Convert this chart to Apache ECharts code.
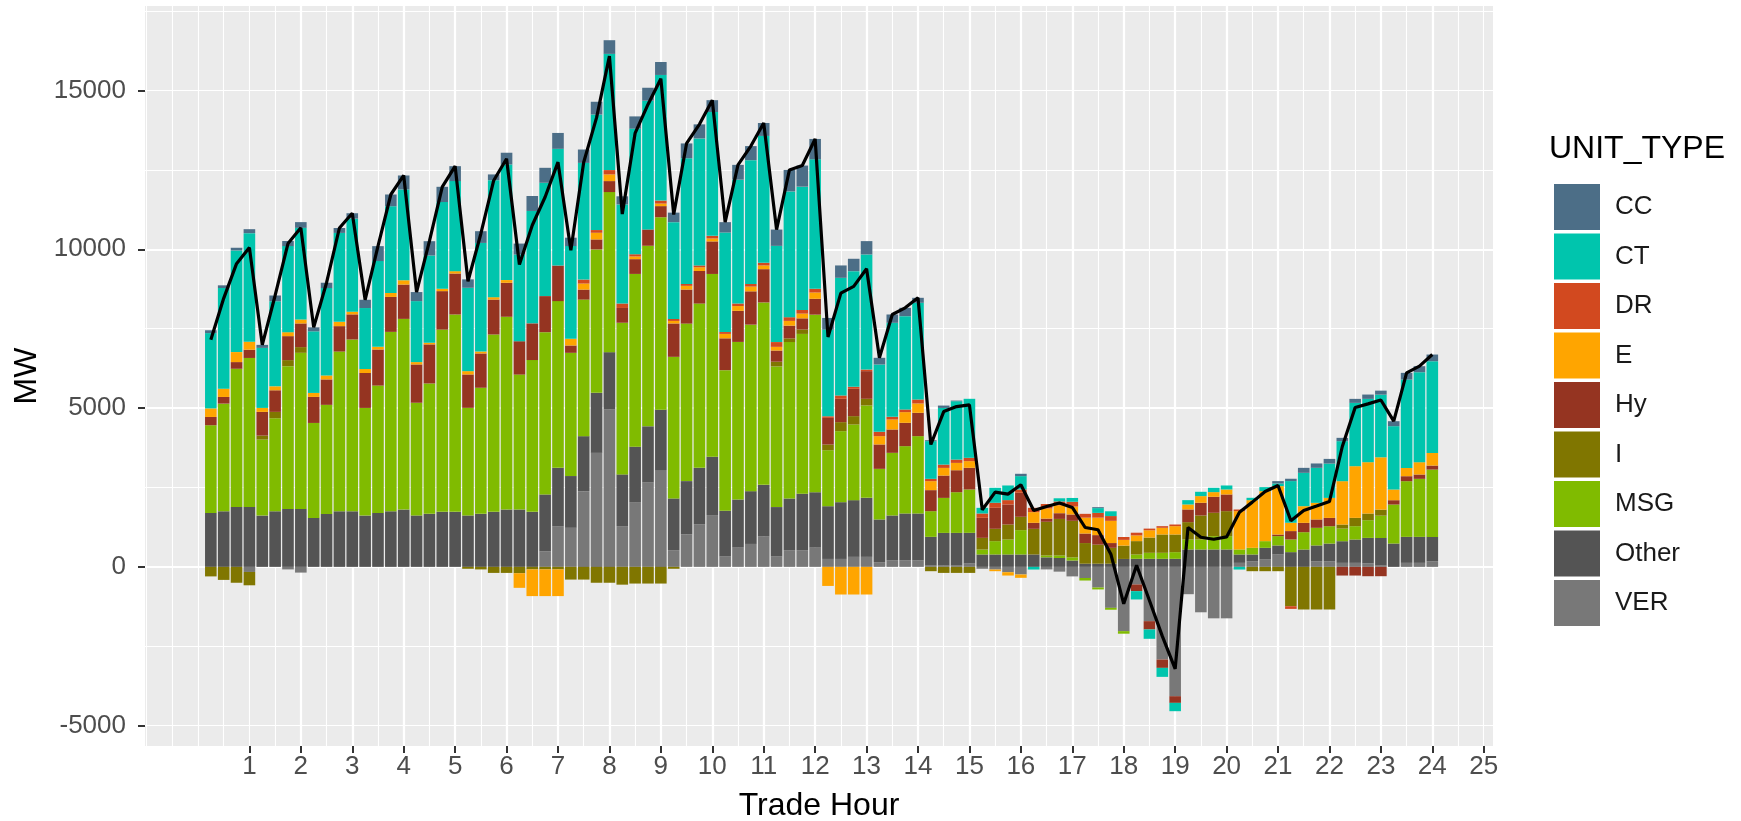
<!DOCTYPE html>
<html><head><meta charset="utf-8">
<script src="https://cdn.jsdelivr.net/npm/echarts@6/dist/echarts.min.js"></script>
<style>html,body{margin:0;padding:0;background:#fff}#c{width:1741px;height:821px}</style>
</head><body><div id="c"></div>
<script>
// Trade hour of each 15-minute interval
const hours = [0.25,0.5,0.75,1,1.25,1.5,1.75,2,2.25,2.5,2.75,3,3.25,3.5,3.75,4,
  4.25,4.5,4.75,5,5.25,5.5,5.75,6,6.25,6.5,6.75,7,7.25,7.5,7.75,8,
  8.25,8.5,8.75,9,9.25,9.5,9.75,10,10.25,10.5,10.75,11,11.25,11.5,11.75,12,
  12.25,12.5,12.75,13,13.25,13.5,13.75,14,14.25,14.5,14.75,15,15.25,15.5,15.75,16,
  16.25,16.5,16.75,17,17.25,17.5,17.75,18,18.25,18.5,18.75,19,19.25,19.5,19.75,20,
  20.25,20.5,20.75,21,21.25,21.5,21.75,22,22.25,22.5,22.75,23,23.25,23.5,23.75,24];

const unitTypes = ['CC','CT','DR','E','Hy','I','MSG','Other','VER'];

const VER = [0,0,0,-160,0,0,-80,-180,0,0,0,0,0,0,0,0,
  0,0,0,0,0,0,0,0,0,0,490,1282,1230,2383,3590,4955,
  1282,2039,2656,3049,524,1025,1336,1631,326,606,722,955,326,524,524,606,
  250,250,315,315,147,210,210,210,40,40,40,105,-60,-84,-168,-240,
  0,-80,-150,-300,-350,-650,-1290,-2024,-554,-1709,-2918,-4072,-860,-1430,-1620,-1620,
  126,178,231,388,0,0,178,178,126,126,113,40,0,126,126,178];
const Other = [1700,1750,1888,1888,1615,1750,1825,1825,1542,1667,1750,1750,1615,1699,1750,1804,
  1618,1670,1732,1732,1618,1670,1732,1805,1805,1732,1790,1836,1630,1733,1890,1806,
  1630,1745,1770,1900,1630,1675,1782,1837,1441,1515,1662,1627,1557,1628,1779,1744,
  1660,1787,1786,1859,1345,1408,1471,1471,906,1030,1030,967,390,390,390,390,
  390,300,280,200,100,100,100,250,254,254,254,254,548,548,548,548,
  264,212,369,286,464,546,496,556,682,735,800,870,735,819,819,766];
const MSG = [2760,3390,4350,4690,2395,2930,4495,4915,2990,3435,5030,5410,3390,4010,5650,6005,
  3550,4105,5740,6215,3390,3970,5585,6070,4250,4780,5110,5250,3880,4300,4515,5040,
  4775,5440,5685,6060,4460,4960,5173,5755,4427,4962,5243,5744,4428,4927,5032,5591,
  1763,2236,2382,2908,1595,1973,2120,2435,808,1102,1281,1365,157,420,473,767,
  0,60,80,100,-80,-60,-60,-80,137,189,189,210,315,315,420,420,
  158,210,210,294,400,546,556,546,399,420,556,703,1228,1753,1827,2120];
const I = [-300,-410,-500,-420,125,200,190,180,0,0,0,0,0,0,0,0,
  0,0,0,0,-60,-80,-190,-190,-200,-80,-80,-80,-400,-400,-500,-500,
  -560,-525,-525,-525,-60,0,0,0,0,0,0,0,150,116,140,0,
  179,284,263,210,0,0,0,0,-136,-190,-190,-190,367,389,472,420,
  808,1060,1150,1150,650,600,500,420,420,480,577,556,546,756,735,787,
  0,-136,-136,-136,-1239,-1342,-1342,-1342,126,262,210,189,0,0,0,0];
const Hy = [260,210,210,260,745,680,755,745,820,800,800,790,1100,1135,1100,1080,
  1205,1230,1210,1290,1050,1080,1100,1070,1050,1155,1135,1120,230,315,315,346,
  465,465,513,350,1050,1072,1025,1025,1002,979,1049,1048,350,400,350,500,
  839,735,861,871,767,735,735,735,662,703,692,682,630,661,630,755,
  189,100,180,200,300,300,150,0,-210,-262,-262,-210,399,399,504,525,
  0,0,0,50,263,294,263,262,-273,-273,-294,-294,136,157,136,126];
const E = [270,260,315,250,125,125,125,125,125,125,135,85,125,85,125,135,
  75,50,75,75,105,60,75,85,-460,-840,-840,-840,210,190,210,210,
  0,85,0,80,80,117,117,93,140,150,150,117,117,150,150,198,
  -600,-870,-870,-870,262,315,336,294,283,241,231,210,0,-52,-105,-105,
  336,320,250,250,500,550,700,180,180,230,210,262,157,210,147,157,
  1207,1501,1575,1524,262,525,523,630,1365,1627,1617,1648,336,262,388,399];
const DR = [0,0,0,0,0,0,0,0,0,0,0,0,0,0,0,0,
  0,0,0,0,0,0,0,0,0,0,0,0,0,125,85,136,
  140,70,0,95,60,58,58,82,58,80,80,82,150,117,117,117,
  50,105,63,50,136,84,84,126,73,105,105,105,137,158,137,105,
  136,140,120,150,120,150,150,90,85,52,52,52,0,0,0,0,
  52,0,0,0,-84,0,0,0,0,0,0,0,0,0,0,0];
const CT = [2370,3170,3200,3420,1890,2680,2710,2885,1940,2750,2800,2930,1920,2700,2730,2860,
  1920,2750,2730,2835,2625,3420,3685,3640,2730,3540,3570,3675,2920,3675,3640,3660,
  3120,3955,4054,3955,3050,3960,4000,3900,3134,3900,3900,3996,3030,3960,3880,4077,
  2730,3705,3642,3624,2121,2960,2939,3044,1187,1784,1837,1858,178,472,461,420,
  -84,0,100,120,0,150,150,0,-262,-294,-283,-262,136,136,136,126,
  -84,74,126,84,1312,1050,1103,1081,1260,1994,1994,1973,1995,2782,2834,2887];
const CC = [90,85,85,125,95,180,160,180,125,170,155,170,260,470,370,440,
  285,450,480,470,265,370,180,370,345,470,470,500,265,420,400,430,
  256,385,408,407,300,466,442,372,326,466,443,408,513,676,664,641,
  367,389,389,420,210,262,262,157,30,74,20,0,0,0,0,74,
  0,0,0,0,0,30,0,0,0,0,0,0,0,0,0,0,
  0,0,0,74,74,157,137,147,105,126,136,126,157,210,189,210];

const xTickValues = [1,2,3,4,5,6,7,8,9,10,11,12,13,14,15,16,17,18,19,20,21,22,23,24,25];
const yTickValues = [-5000,0,5000,10000,15000];

const seriesValues = {CC, CT, DR, E, Hy, I, MSG, Other, VER};
const colors = {CC:'#4C6E87', CT:'#00C5AD', DR:'#D2491F', E:'#FFA500', Hy:'#953421',
  I:'#807600', MSG:'#80BB00', Other:'#545454', VER:'#787878'};
const stackOrder = ['VER','Other','MSG','I','Hy','E','DR','CT','CC'];

const FONT = '"Liberation Sans", Arial, Helvetica, sans-serif';
const XMIN = -1.03, XMAX = 25.18, YMIN = -5640, YMAX = 17660;

// value first, hour second: the stacked dimension must be the MW value
const barSeries = stackOrder.map(name => ({
  name, type: 'bar', stack: 'total', stackStrategy: 'samesign',
  xAxisIndex: 0, yAxisIndex: 0, barWidth: 11.6,
  encode: {x: 1, y: 0},
  itemStyle: {color: colors[name]},
  data: hours.map((h, i) => [seriesValues[name][i], h]),
  z: 2, animation: false
}));
const net = hours.map((h, i) => [h, stackOrder.reduce((s, n) => s + seriesValues[n][i], 0)]);

const chart = echarts.init(document.getElementById('c'), null, {renderer: 'canvas'});
chart.setOption({
  animation: false,
  textStyle: {fontFamily: FONT},
  title: {text: 'UNIT_TYPE', left: 1549, top: 133, padding: 0,
    textStyle: {fontSize: 32, fontWeight: 'normal', color: '#000', fontFamily: FONT}},
  legend: {data: unitTypes, orient: 'vertical', left: 1549, top: 179, itemWidth: 46, itemHeight: 46,
    itemGap: 3.5, icon: 'rect', selectedMode: false,
    textStyle: {fontSize: 26, color: '#1A1A1A', fontFamily: FONT, padding: [0, 0, 0, 10]}},
  grid: {left: 145, right: 248, top: 6, bottom: 75, show: true, backgroundColor: '#EBEBEB', borderWidth: 0,
    containLabel: false, outerBoundsMode: 'none'},
  xAxis: [
    {type: 'value', min: XMIN, max: XMAX, minInterval: 1, maxInterval: 1,
      axisLine: {show: false, onZero: false},
      axisTick: {show: true, length: 7, customValues: xTickValues, lineStyle: {color: '#333', width: 2}},
      axisLabel: {customValues: xTickValues, fontSize: 26, color: '#4D4D4D', margin: 8, fontFamily: FONT,
        formatter: v => (v >= 1 && Math.abs(v - Math.round(v)) < 1e-6) ? String(Math.round(v)) : ''},
      splitLine: {show: true, showMinLine: false, showMaxLine: false, lineStyle: {color: '#FFFFFF', width: 2.2}},
      name: 'Trade Hour', nameLocation: 'middle', nameGap: 44,
      nameTextStyle: {fontSize: 32, color: '#000', fontFamily: FONT}, z: 1},
    {type: 'value', min: XMIN, max: XMAX, minInterval: 0.5, maxInterval: 0.5, position: 'bottom',
      axisLine: {show: false, onZero: false}, axisTick: {show: false}, axisLabel: {show: false},
      splitLine: {show: true, showMinLine: false, showMaxLine: false, lineStyle: {color: '#FFFFFF', width: 1.1}}, z: 0}
  ],
  yAxis: [
    {type: 'value', min: YMIN, max: YMAX, minInterval: 5000, maxInterval: 5000, position: 'left',
      axisLine: {show: false, onZero: false},
      axisTick: {show: true, length: 7, customValues: yTickValues, lineStyle: {color: '#333', width: 2}},
      axisLabel: {customValues: yTickValues, fontSize: 26, color: '#4D4D4D', margin: 19, fontFamily: FONT,
        formatter: v => String(v)},
      splitLine: {show: true, showMinLine: false, showMaxLine: false, lineStyle: {color: '#FFFFFF', width: 2.2}},
      name: 'MW', nameLocation: 'middle', nameGap: 101,
      nameTextStyle: {fontSize: 32, color: '#000', fontFamily: FONT}, z: 1},
    {type: 'value', min: YMIN, max: YMAX, minInterval: 2500, maxInterval: 2500, position: 'left', offset: 0,
      axisLine: {show: false, onZero: false}, axisTick: {show: false}, axisLabel: {show: false},
      splitLine: {show: true, showMinLine: false, showMaxLine: false, lineStyle: {color: '#FFFFFF', width: 1.1}}, z: 0}
  ],
  series: [
    ...barSeries,
    {name: 'Net', type: 'line', xAxisIndex: 0, yAxisIndex: 0, data: net, symbol: 'none',
      lineStyle: {color: '#000', width: 3.2}, z: 5, animation: false}
  ]
});
</script></body></html>
